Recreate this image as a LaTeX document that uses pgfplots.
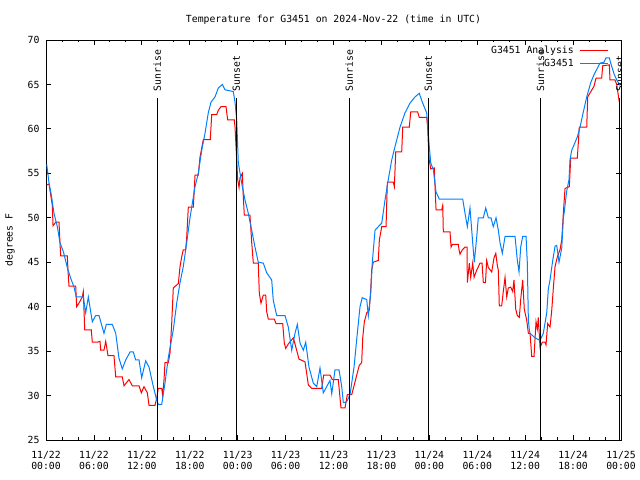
\documentclass[border=0pt]{standalone}
\usepackage{pgfplots}
\pgfplotsset{compat=1.18}
\usepackage{fontspec}
\setmainfont{DejaVu Sans Mono}
\definecolor{obsblue}{RGB}{0,128,255}
\begin{document}
\fontsize{9.8bp}{11bp}\selectfont
\begin{tikzpicture}
\useasboundingbox (0,0) rectangle (640bp,480bp);
\begin{axis}[
  at={(46bp,40bp)}, anchor=south west,
  scale only axis, width=575bp, height=400bp,
  xmin=0, xmax=72, ymin=25, ymax=70,
  xtick={0,6,...,72},
  xticklabels={{11/22\\00:00},{11/22\\06:00},{11/22\\12:00},{11/22\\18:00},{11/23\\00:00},{11/23\\06:00},{11/23\\12:00},{11/23\\18:00},{11/24\\00:00},{11/24\\06:00},{11/24\\12:00},{11/24\\18:00},{11/25\\00:00}},
  minor x tick num=2,
  ytick={25,30,...,70},
  major tick length=5bp, minor tick length=2.5bp,
  tick style={black, line width=0.8bp},
  axis line style={line width=0.9bp},
  xticklabel style={align=center, font=\fontsize{9.8bp}{11bp}\selectfont, yshift=-8bp},
  yticklabel style={font=\fontsize{9.8bp}{11bp}\selectfont, xshift=-3bp},
  /pgf/number format/assume math mode=true,
  title={Temperature for G3451 on 2024-Nov-22 (time in UTC)},
  every axis title/.style={at={(axis description cs:0.5,1.05)}, anchor=center, inner sep=0pt},
  ylabel={degrees F},
  ylabel style={at={(axis description cs:-0.0626,0.5)}, anchor=center, inner sep=0pt},
  legend style={draw=none, fill=none, at={(axis description cs:0.979,0.99)}, anchor=north east, inner sep=0pt, row sep=0pt, font=\fontsize{9.8bp}{11bp}\selectfont, /tikz/every odd column/.append style={column sep=4bp}},
  legend cell align=right,
  legend plot pos=right,
  legend image code/.code={\draw[#1] (0bp,0bp) -- (28bp,0bp);},
]
\addplot[red, line width=1bp] coordinates {
(0.09,53.7) (0.38,53.8) (0.79,51.4) (0.88,49.1) (1.21,49.5) (1.63,49.5) (1.75,47.2) (1.84,45.7)
(2.67,45.7) (2.75,44.1) (2.88,42.3) (3.72,42.3) (3.84,40) (4.13,40.4) (4.55,41.1) (4.67,41.7)
(4.85,37.4) (5.67,37.4) (5.80,36) (6.42,36) (6.76,36.1) (6.85,35.1) (7.26,35.1) (7.48,36.1)
(7.76,34.5) (8.51,34.5) (8.73,32.1) (9.55,32.1) (9.77,31.1) (10.39,31.8) (10.81,31.1) (11.65,31.1)
(11.94,30.3) (12.27,31) (12.69,30.3) (12.90,28.9) (13.65,28.9) (13.86,29.7) (14.06,30.8) (14.49,30.8)
(14.61,30) (14.78,31.8) (14.90,33.7) (15.32,33.7) (15.53,34.8) (15.74,38.1) (15.94,42.1) (16.57,42.6)
(16.78,44.5) (16.99,45.6) (17.19,46.4) (17.49,46.4) (17.62,47.8) (17.82,51.2) (18.45,51.2) (18.66,54.8)
(19.07,54.8) (19.28,56.8) (19.70,58.8) (20.57,58.8) (20.75,61.6) (21.37,61.6) (21.58,62.1) (21.91,62.5)
(22.54,62.5) (22.75,61) (23.58,61) (23.67,60.2) (23.88,56.5) (24.00,54.3) (24.17,53.4) (24.29,54.5)
(24.58,55) (24.71,52.3) (24.83,50.3) (25.54,50.3) (25.76,47.2) (25.96,44.9) (26.58,44.9) (26.71,41.5)
(26.92,40.4) (27.21,41.3) (27.51,41.3) (27.64,39.4) (27.84,38.6) (28.59,38.6) (28.80,38.1) (29.64,38.1)
(29.84,35.9) (30.02,35.3) (30.34,35.8) (30.97,36.5) (31.18,35.8) (31.68,34.1) (32.43,33.8) (32.85,31.2)
(33.27,30.8) (34.52,30.8) (34.77,32.3) (35.56,32.3) (35.85,31.8) (36.60,31.8) (36.94,28.6) (37.44,28.6)
(37.73,30.1) (38.28,30.1) (38.57,31.1) (38.91,32.3) (39.23,33.4) (39.53,33.7) (39.66,36.5) (39.86,38.3)
(40.16,39.3) (40.48,39.6) (40.66,41.9) (40.78,44.1) (40.98,45) (41.61,45.2) (41.74,47.5) (42.04,49)
(42.58,49) (42.74,54) (43.49,54) (43.62,53.5) (43.79,57.4) (44.54,57.4) (44.67,60.2) (45.49,60.2)
(45.67,61.9) (46.54,61.9) (46.74,61.3) (47.67,61.3) (47.79,60.2) (47.87,58.4) (47.99,56.5) (48.17,55.5)
(48.62,55.6) (48.72,53.4) (48.84,50.9) (49.55,50.9) (49.68,51.4) (49.75,48.4) (50.59,48.4) (50.72,46.7)
(50.88,47) (51.63,47) (51.72,46.4) (51.84,45.9) (52.13,46.4) (52.47,46.7) (52.72,46.7) (52.76,42.7)
(53.01,44.9) (53.18,43.3) (53.43,44.9) (53.60,43.3) (53.93,44.1) (54.35,44.9) (54.60,44.9) (54.76,42.7)
(55.03,42.7) (55.18,45.2) (55.39,44.4) (55.81,43.9) (56.10,45.5) (56.32,46) (56.52,44.6) (56.64,44.1)
(56.76,40.1) (57.06,40.1) (57.26,41.7) (57.48,43.3) (57.69,41.1) (57.89,42.1) (58.19,42.2) (58.44,41.7)
(58.60,43) (58.82,39.7) (59.02,39) (59.27,38.8) (59.44,40.8) (59.69,43) (59.89,39.7) (60.19,38.5)
(60.40,37) (60.61,37) (60.82,34.4) (61.11,34.4) (61.23,36.3) (61.36,38.3) (61.52,37.5) (61.65,38.8)
(61.86,35.4) (62.15,36) (62.49,36) (62.61,35.7) (62.82,38.1) (63.11,37.7) (63.32,39.5) (63.52,42)
(63.74,44.5) (64.03,45.6) (64.36,46.4) (64.58,47.5) (64.78,50.5) (64.99,53.3) (65.53,53.5) (65.70,56.7)
(66.53,56.7) (66.78,60.2) (67.71,60.2) (67.83,63.6) (68.62,64.8) (68.87,65.7) (69.58,65.7) (69.71,67.1)
(70.54,67.2) (70.62,65.5) (71.25,65.5) (71.46,65) (71.79,63)
};
\addlegendentry{G3451 Analysis}
\addplot[obsblue, line width=1bp] coordinates {
(0.09,56) (0.38,53.9) (0.66,52.6) (1.0,50.5) (1.42,49) (1.75,47.2) (2.17,46.2) (2.67,44.4)
(3.09,43.2) (3.51,42.2) (3.79,41.1) (4.67,41.1) (4.97,39.3) (5.30,41.1) (5.80,38.3) (6.22,39)
(6.64,39) (7.26,37) (7.55,38) (8.30,38) (8.73,37) (9.14,34.2) (9.55,33) (9.98,34)
(10.52,34.9) (10.93,34.9) (11.23,34) (11.65,34) (11.98,32) (12.48,33.9) (12.90,33.2) (13.44,31)
(13.86,29.5) (14.06,29) (14.49,29) (14.90,31.4) (15.32,34.3) (15.94,37.4) (16.37,40.4) (16.78,42.7)
(17.19,44.5) (17.62,47.2) (18.03,50) (18.66,53.5) (19.07,55) (19.50,57.6) (19.91,59.5) (20.32,61.8)
(20.66,63) (21.16,63.6) (21.58,64.6) (22.08,65) (22.41,64.4) (23.45,64.2) (23.67,63) (23.88,61)
(24.08,56.2) (24.58,53.5) (24.92,52) (25.33,50.5) (25.76,48.6) (26.17,46.7) (26.58,45) (27.21,44.9)
(27.64,43.8) (28.26,43) (28.46,40.7) (28.89,39) (29.93,39) (30.34,37.7) (30.77,35.1) (31.18,37)
(31.47,38) (31.81,35.9) (32.22,35.1) (32.52,36) (32.93,33.2) (33.47,31.4) (33.90,31) (34.31,33.1)
(34.72,30.3) (35.15,31) (35.56,31.7) (35.78,30.2) (36.19,32.9) (36.69,32.9) (37.03,31) (37.23,29.2)
(37.65,29.3) (38.07,30.1) (38.57,33.2) (38.98,37) (39.32,40) (39.60,41) (40.16,40.8) (40.36,39)
(40.66,41.5) (40.86,45) (41.20,48.6) (41.61,49) (42.04,49.4) (42.45,52) (42.86,54.3) (43.29,56.5)
(43.70,58) (44.33,60.2) (44.95,61.8) (45.58,62.9) (46.21,63.6) (46.74,64) (47.17,62.9) (47.67,61.8)
(47.96,58.4) (48.17,56.2) (48.50,55.4) (48.84,52.9) (49.25,52.1) (52.18,52.1) (52.47,50.5) (52.76,49)
(53.09,51.1) (53.43,47.2) (53.63,45) (53.93,47.8) (54.13,50) (54.76,50) (55.06,51.1) (55.39,50)
(55.72,50) (56.01,49) (56.35,50) (56.64,48.6) (56.85,47.2) (57.14,46) (57.48,47.9) (58.73,47.9)
(59.02,45.2) (59.23,43.9) (59.44,46.7) (59.69,47.9) (60.11,47.9) (60.27,44.9) (60.40,38.5) (60.52,37.4)
(60.61,37) (61.23,36.5) (61.86,36.2) (62.27,37) (62.70,39.3) (62.90,42) (63.11,43) (63.45,45.2)
(63.74,46.8) (63.95,46.9) (64.24,45) (64.58,46.6) (64.78,50) (64.87,50.5) (65.20,53) (65.49,54.3)
(65.61,56.5) (65.83,57.6) (66.12,58.2) (66.53,59.1) (66.87,60.2) (67.28,61.9) (67.71,63.6) (68.21,65.2)
(68.62,66.1) (69.37,67.4) (69.87,67.5) (70.12,68) (70.54,68) (70.71,67.4) (71.16,66.1) (71.59,65.3)
(71.88,64.9)
};
\addlegendentry{G3451}
\addplot[black, line width=1bp, forget plot] coordinates {(13.94,25) (13.94,63.5)};
\addplot[black, line width=1bp, forget plot] coordinates {(23.83,25) (23.83,63.5)};
\addplot[black, line width=1bp, forget plot] coordinates {(37.98,25) (37.98,63.5)};
\addplot[black, line width=1bp, forget plot] coordinates {(47.88,25) (47.88,63.5)};
\addplot[black, line width=1bp, forget plot] coordinates {(61.90,25) (61.90,63.5)};
\addplot[black, line width=1bp, forget plot] coordinates {(71.85,25) (71.85,63.5)};
\node[rotate=90, anchor=west, inner sep=0pt] at (axis cs:13.94,64.2) {Sunrise};
\node[rotate=90, anchor=west, inner sep=0pt] at (axis cs:23.83,64.2) {Sunset};
\node[rotate=90, anchor=west, inner sep=0pt] at (axis cs:37.98,64.2) {Sunrise};
\node[rotate=90, anchor=west, inner sep=0pt] at (axis cs:47.88,64.2) {Sunset};
\node[rotate=90, anchor=west, inner sep=0pt] at (axis cs:61.90,64.2) {Sunrise};
\node[rotate=90, anchor=west, inner sep=0pt] at (axis cs:71.85,64.2) {Sunset};
\end{axis}
\end{tikzpicture}
\end{document}
